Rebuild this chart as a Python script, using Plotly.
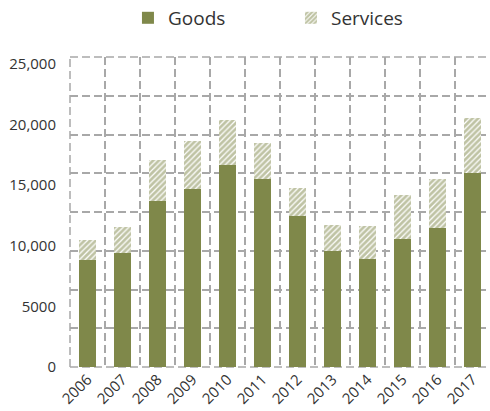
import plotly.graph_objects as go

years = ["2006", "2007", "2008", "2009", "2010", "2011", "2012", "2013", "2014", "2015", "2016", "2017"]
goods = [8820, 9420, 13690, 14670, 16650, 15520, 12470, 9560, 8930, 10580, 11490, 16020]
services = [1650, 2150, 3380, 3960, 3710, 2950, 2290, 2150, 2690, 3600, 4010, 4510]
y_tickvals = [0, 5000, 10000, 15000, 20000, 25000]
y_ticktext = ["0", "5000", "10,000", "15,000", "20,000", "25,000"]

OLIVE = "#7f884a"
GRID = "#a8a8a8"
DASH = "8px,4px"
FONT = "Open Sans, DejaVu Sans, sans-serif"

fig = go.Figure()
fig.add_trace(go.Bar(
    x=years, y=goods, name="Goods",
    marker=dict(color=OLIVE, line=dict(width=0)),
))
fig.add_trace(go.Bar(
    x=years, y=services, name="Services",
    marker=dict(color="white", line=dict(width=0),
                pattern=dict(shape="/", fgcolor=OLIVE, bgcolor="white", size=4, solidity=0.7)),
))
# invisible trace to carry the decorative horizontal grid axis
fig.add_trace(go.Scatter(x=[None], y=[None], yaxis="y2", showlegend=False, hoverinfo="skip"))

# plot-area border lines (dashed like the grid)
for (x0, y0, x1, y1) in [(0, 0, 1, 0), (0, 1, 1, 1), (0, 0, 0, 1)]:
    fig.add_shape(type="line", xref="paper", yref="paper", x0=x0, y0=y0, x1=x1, y1=y1,
                  line=dict(color=GRID, width=1.5, dash=DASH), layer="below")

fig.update_layout(
    width=490, height=411,
    margin=dict(l=70, r=0, t=57, b=44, autoexpand=False),
    barmode="stack",
    bargap=0.54,
    plot_bgcolor="white", paper_bgcolor="white",
    font=dict(family=FONT, color="#333333", size=14),
    showlegend=True,
    legend=dict(orientation="h", x=0.138, xanchor="left", y=1.126, yanchor="middle",
                font=dict(size=19, color="#333333"), entrywidth=118, traceorder="normal",
                itemwidth=30),
    xaxis=dict(
        type="category", tickson="boundaries", showgrid=True,
        gridcolor=GRID, griddash=DASH, gridwidth=1.5,
        ticks="", tickangle=-45, tickfont=dict(size=15, color="#333333"),
        showline=False, zeroline=False, range=[-0.5, 11.5], automargin=False,
    ),
    yaxis=dict(
        range=[0, 25550], tickvals=y_tickvals, ticktext=y_ticktext,
        showgrid=False, zeroline=False, showline=False, ticks="",
        tickfont=dict(size=15, color="#333333"), ticklabelstandoff=13, automargin=False,
    ),
    yaxis2=dict(
        overlaying="y", range=[0, 8], dtick=1, tick0=0,
        showgrid=True, gridcolor=GRID, griddash=DASH, gridwidth=1.5,
        showticklabels=False, zeroline=False, showline=False, ticks="", automargin=False,
    ),
)

fig.write_html("out.html")
